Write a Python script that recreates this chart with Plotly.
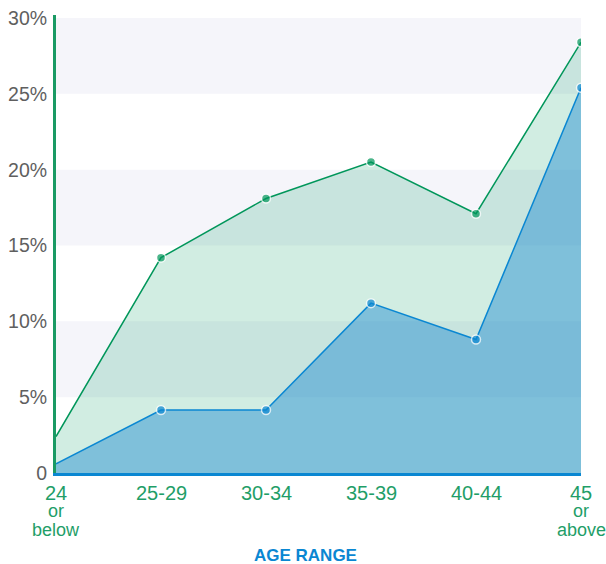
import plotly.graph_objects as go

categories = ["24<br>or<br>below", "25-29", "30-34", "35-39", "40-44", "45<br>or<br>above"]
series_green = [2.4, 14.2, 18.1, 20.5, 17.1, 28.4]
series_blue = [0.6, 4.15, 4.15, 11.2, 8.8, 25.4]
y_ticks = [0, 5, 10, 15, 20, 25, 30]
y_tick_labels = ["0", "5%", "10%", "15%", "20%", "25%", "30%"]
bands = [(25, 30), (15, 20), (5, 10)]
x_title = "AGE RANGE"

xs = list(range(len(categories)))
GREEN = "#00965a"
LABEL_GREEN = "#1f9e68"
BLUE = "#0a87d2"

fig = go.Figure()
fig.add_trace(go.Scatter(
    x=xs, y=series_blue, mode="lines+markers", fill="tozeroy",
    fillcolor="rgba(10,135,185,0.52)",
    line=dict(color=BLUE, width=1.5),
    marker=dict(size=[0] + [9] * (len(xs) - 1), color=BLUE, line=dict(color="white", width=1.5)),
    hoverinfo="skip", showlegend=False,
))
fig.add_trace(go.Scatter(
    x=xs, y=series_green, mode="lines+markers", fill="tonexty",
    fillcolor="rgba(0,154,94,0.18)",
    line=dict(color=GREEN, width=1.5),
    marker=dict(size=[0] + [9] * (len(xs) - 1), color=GREEN, line=dict(color="white", width=1.5)),
    hoverinfo="skip", showlegend=False,
))

for lo, hi in bands:
    fig.add_shape(type="rect", xref="paper", yref="y", x0=0, x1=1, y0=lo, y1=hi,
                  fillcolor="#f5f5fa", line=dict(width=0), layer="below")

# multi-line category labels with tight line spacing
for i, cat in enumerate(categories):
    for k, line in enumerate(cat.split("<br>")):
        fig.add_annotation(
            x=xs[i], y=0, xref="x", yref="y", text=line, showarrow=False,
            yanchor="middle", xanchor="center", yshift=-19.5 - 18.5 * k,
            font=dict(size=20 if k == 0 else 18, color=LABEL_GREEN,
                      family="Liberation Sans, Arial, sans-serif"),
        )

fig.add_annotation(
    x=0.475, y=-0.18, xref="paper", yref="paper", text="<b>" + x_title + "</b>",
    showarrow=False, xanchor="center", yanchor="middle",
    font=dict(size=17, color=BLUE, family="Liberation Sans, Arial, sans-serif"),
)

fig.update_layout(
    width=606, height=564,
    margin=dict(l=56, r=25, t=15, b=91),
    plot_bgcolor="white", paper_bgcolor="white",
    font=dict(family="Liberation Sans, Arial, sans-serif"),
)
fig.update_xaxes(
    range=[0, 5], tickvals=xs, showticklabels=False, showgrid=False, zeroline=False,
    showline=True, linecolor=BLUE, linewidth=3, ticks="", automargin=False,
)
fig.update_yaxes(
    range=[0, 30.2], tickvals=y_ticks, ticktext=y_tick_labels, showgrid=False, zeroline=False,
    showline=True, linecolor="#1a9a64", linewidth=3, ticks="", automargin=False,
    tickfont=dict(size=19.5, color="#5f5f5f"), ticklabelstandoff=2,
    ticklabeloverflow="allow",
)

fig.write_html(
    "out.html",
    config={"displayModeBar": False},
    post_script="document.body.style.margin='0';document.body.style.overflow='hidden';",
)
